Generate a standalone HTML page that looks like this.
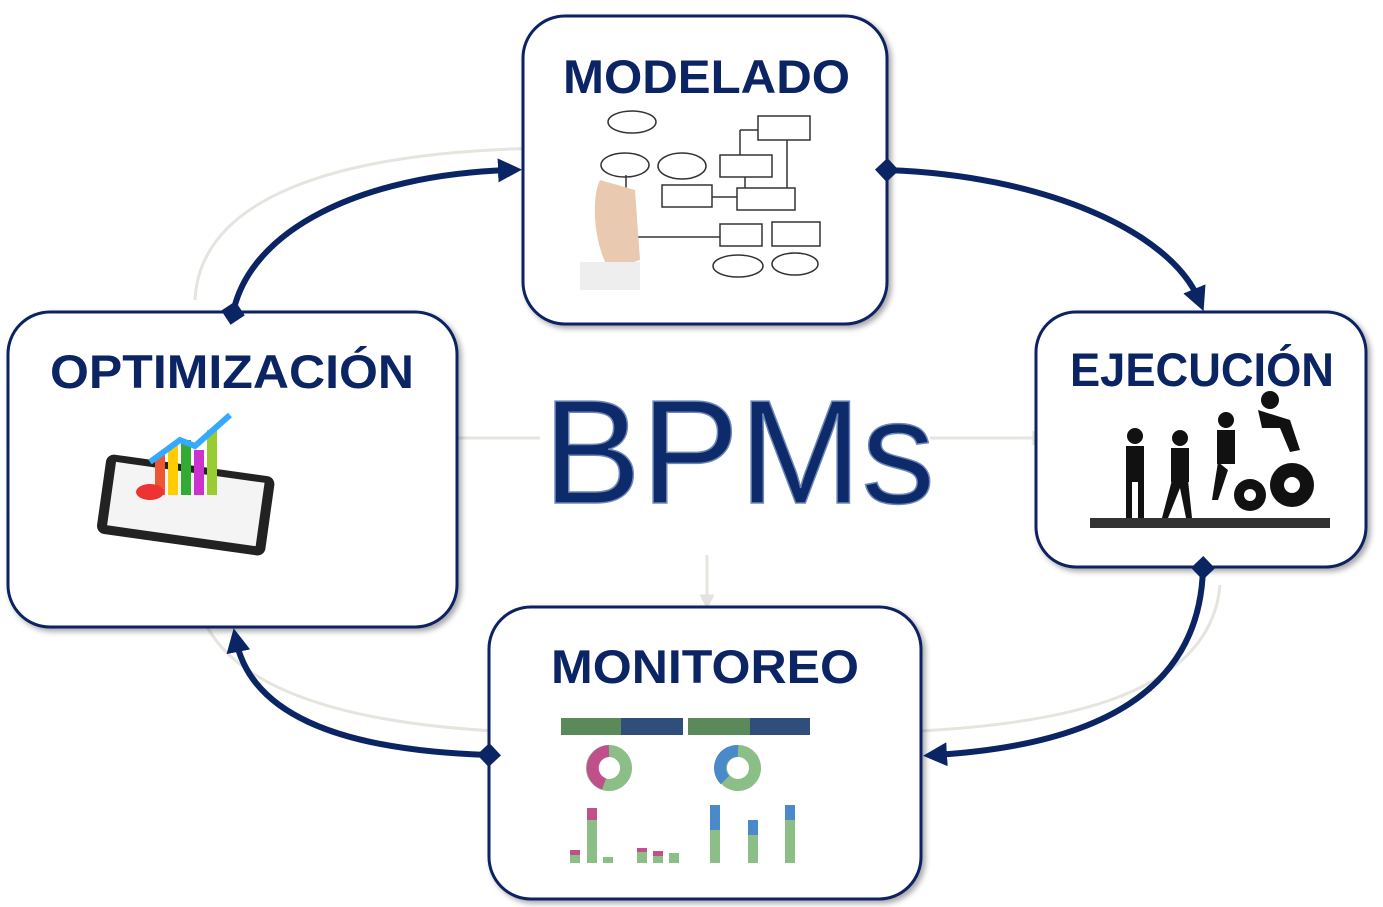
<!DOCTYPE html>
<html><head><meta charset="utf-8"><style>
html,body{margin:0;padding:0;background:#fff;}
svg{display:block}
text{font-family:"Liberation Sans","DejaVu Sans",sans-serif;font-weight:bold;fill:#0b2463}
</style></head><body>
<svg width="1383" height="907" viewBox="0 0 1383 907" xmlns="http://www.w3.org/2000/svg">
<defs>
<filter id="sh" x="-10%" y="-10%" width="120%" height="120%"><feDropShadow dx="3" dy="3" stdDeviation="3" flood-color="#000" flood-opacity="0.35"/></filter>
<marker id="ah" markerWidth="4" markerHeight="4" refX="2" refY="2" orient="auto" markerUnits="strokeWidth"><path d="M0,0 L4,2 L0,4 z" fill="#0b2463"/></marker>
<marker id="dm" markerWidth="4" markerHeight="4" refX="2" refY="2" orient="auto" markerUnits="strokeWidth"><path d="M0,2 L2,0 L4,2 L2,4 z" fill="#0b2463"/></marker>
<marker id="la" markerWidth="5" markerHeight="5" refX="2.5" refY="2.5" orient="auto" markerUnits="strokeWidth"><path d="M0,0 L5,2.5 L0,5 z" fill="#e4e2dc"/></marker>
</defs>
<g stroke="#e6e4de" stroke-width="3" fill="none" marker-end="url(#la)">
<path d="M195,300 C200,200 330,150 555,148"/>
<path d="M1220,585 C1210,700 1050,730 860,733"/>
<path d="M195,590 C210,700 380,730 550,733"/>
<path d="M540,438 L365,438"/>
<path d="M930,438 L1040,438"/>
<path d="M707,555 L707,602"/>
<path d="M738,292 L738,325" marker-end="none"/>
</g>
<g fill="#fff" stroke="#0b2463" stroke-width="3" filter="url(#sh)">
<rect x="523" y="16" width="364" height="308" rx="42"/>
<rect x="8" y="312" width="449" height="315" rx="42"/>
<rect x="1036" y="312" width="330" height="255" rx="40"/>
<rect x="489" y="607" width="432" height="292" rx="42"/>
</g>
<g stroke="#0b2463" stroke-width="6" fill="none" marker-end="url(#ah)" marker-start="url(#dm)">
<path d="M233,313 C250,230 360,175 510,170"/>
<path d="M887,170 C1040,175 1170,230 1199,300"/>
<path d="M1203,568 C1200,690 1100,745 935,755"/>
<path d="M489,755 C330,750 250,710 236,640"/>
</g>
<text x="563" y="93" font-size="47" textLength="287" lengthAdjust="spacingAndGlyphs">MODELADO</text>
<text x="50" y="388" font-size="47" textLength="364" lengthAdjust="spacingAndGlyphs">OPTIMIZACIÓN</text>
<text x="1070" y="386" font-size="47" textLength="264" lengthAdjust="spacingAndGlyphs">EJECUCIÓN</text>
<text x="551" y="683" font-size="47" textLength="308" lengthAdjust="spacingAndGlyphs">MONITOREO</text>
<text x="543" y="503" font-size="148" textLength="392" lengthAdjust="spacingAndGlyphs" style="font-weight:normal;fill:#0d2a6b;stroke:#6d86b8;stroke-width:1.5">BPMs</text>
<g stroke="#333" stroke-width="1.5" fill="none">
<ellipse cx="632" cy="122" rx="24" ry="11"/>
<ellipse cx="625" cy="165" rx="24" ry="12"/>
<ellipse cx="682" cy="166" rx="24" ry="13"/>
<rect x="758" y="116" width="52" height="24"/>
<rect x="720" y="155" width="52" height="22"/>
<rect x="662" y="185" width="50" height="22"/>
<rect x="737" y="188" width="58" height="22"/>
<rect x="720" y="224" width="42" height="22"/>
<rect x="772" y="222" width="48" height="24"/>
<ellipse cx="738" cy="266" rx="25" ry="11"/>
<ellipse cx="795" cy="264" rx="23" ry="11"/>
<path d="M626,237 L720,237 M740,130 L758,130 M740,130 L740,155 M787,140 L787,188 M745,177 L745,188 M712,197 L737,197 M626,175 L626,237"/>
</g>
<path d="M600,180 C590,200 595,250 610,270 L640,260 L635,190 Z" fill="#e9c9b0"/>
<rect x="580" y="262" width="60" height="28" fill="#eee"/>
<g transform="rotate(8 185 510)">
<rect x="100" y="465" width="170" height="80" rx="8" fill="#222"/>
<rect x="110" y="472" width="150" height="64" fill="#f4f4f4"/>
</g>
<rect x="155" y="455" width="10" height="40" fill="#e53"/>
<rect x="168" y="445" width="10" height="50" fill="#fc0"/>
<rect x="181" y="440" width="10" height="55" fill="#3a3"/>
<rect x="194" y="450" width="10" height="45" fill="#c3c"/>
<rect x="207" y="430" width="10" height="65" fill="#9c3"/>
<ellipse cx="150" cy="492" rx="14" ry="8" fill="#e33"/>
<path d="M150,462 L180,440 L195,446 L230,415" stroke="#3af" stroke-width="6" fill="none"/>
<rect x="1090" y="518" width="240" height="10" fill="#333"/>
<g fill="#111">
<circle cx="1135" cy="436" r="8"/><rect x="1126" y="446" width="18" height="36"/><rect x="1126" y="480" width="6" height="38"/><rect x="1138" y="480" width="6" height="38"/>
<circle cx="1180" cy="438" r="8"/><rect x="1171" y="448" width="18" height="34"/><path d="M1172,480 L1162,518 L1168,518 L1180,488 L1186,518 L1192,518 L1188,480Z"/>
<circle cx="1226" cy="420" r="8"/><rect x="1217" y="430" width="18" height="34"/><path d="M1218,462 L1212,500 L1218,500 L1228,470 Z"/>
<circle cx="1270" cy="400" r="9"/><path d="M1258,410 L1290,420 L1300,450 L1290,452 L1280,428 L1262,428Z"/>
<circle cx="1250" cy="495" r="16"/><circle cx="1292" cy="485" r="22"/>
</g>
<circle cx="1250" cy="495" r="6" fill="#fff"/><circle cx="1292" cy="485" r="8" fill="#fff"/>
<rect x="561" y="718" width="60" height="17" fill="#5a8a5a"/>
<rect x="621" y="718" width="62" height="17" fill="#2f4f7a"/>
<rect x="688" y="718" width="62" height="17" fill="#5a8a5a"/>
<rect x="750" y="718" width="60" height="17" fill="#2f4f7a"/>
<circle cx="609" cy="768" r="17" fill="none" stroke="#8cbf88" stroke-width="12"/>
<path d="M609,751 A17,17 0 0 0 604,784" stroke="#c0508a" stroke-width="12" fill="none"/>
<circle cx="738" cy="768" r="17" fill="none" stroke="#8cbf88" stroke-width="12"/>
<path d="M738,751 A17,17 0 0 0 725,780" stroke="#4a8ac8" stroke-width="12" fill="none"/>
<g fill="#8cbf88">
<rect x="570" y="855" width="10" height="8"/><rect x="587" y="820" width="10" height="43"/><rect x="603" y="857" width="10" height="6"/><rect x="637" y="852" width="10" height="11"/><rect x="653" y="856" width="10" height="7"/><rect x="669" y="853" width="10" height="10"/>
<rect x="710" y="830" width="10" height="33"/><rect x="748" y="835" width="10" height="28"/><rect x="785" y="820" width="10" height="43"/>
</g>
<g fill="#c0508a"><rect x="587" y="808" width="10" height="12"/><rect x="570" y="850" width="10" height="5"/><rect x="637" y="848" width="10" height="4"/><rect x="653" y="851" width="10" height="5"/></g>
<g fill="#4a8ac8"><rect x="710" y="805" width="10" height="25"/><rect x="748" y="820" width="10" height="15"/><rect x="785" y="805" width="10" height="15"/></g>
</svg>
</body></html>
